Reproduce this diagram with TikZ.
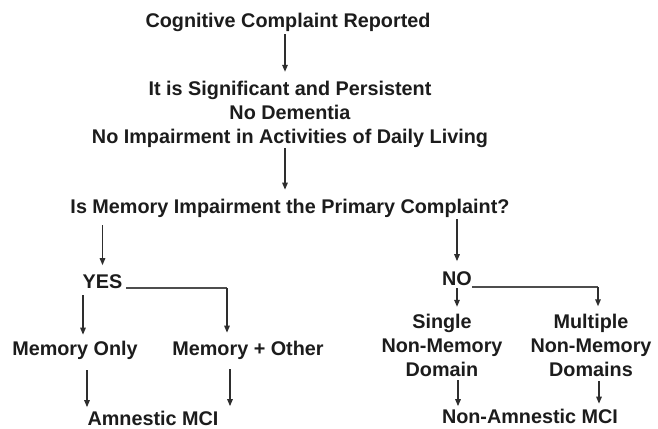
\documentclass[tikz,border=0pt]{standalone}
\usepackage{fontspec}
\setmainfont{Liberation Sans}
\usetikzlibrary{arrows.meta,calc}
\definecolor{ink}{HTML}{1C1C1C}
\definecolor{wire}{HTML}{2E2E2E}
\begin{document}
\begin{tikzpicture}[x=1pt,y=-1pt,
  lbl/.style={inner sep=0pt,outer sep=0pt,text=ink,font=\fontsize{19.8}{24}\selectfont\bfseries,anchor=base},
  blk/.style={lbl,align=center,anchor=north},
  arr/.style={draw=wire,line width=1.4pt,-{Triangle[length=7pt,width=5.5pt]}},
  hline/.style={draw=wire!85,line width=1.2pt}]
\useasboundingbox[fill=white] (0,0) rectangle (658,428);
% nodes
\node[lbl] (c1) at (288,28) {Cognitive Complaint Reported};
\node[blk] (c2) at (290,80.8) {It is Significant and Persistent\\No Dementia\\No Impairment in Activities of Daily Living};
\node[lbl] (q) at (290,213) {Is Memory Impairment the Primary Complaint?};
\node[lbl] (yes) at (102.5,288) {YES};
\node[lbl] (no) at (457,285) {NO};
\node[lbl] (memonly) at (75,355) {Memory Only};
\node[lbl] (memother) at (248,355) {Memory + Other};
\node[lbl] (amn) at (153,425) {Amnestic MCI};
\node[blk] (single) at (442,313.8) {Single\\Non-Memory\\Domain};
\node[blk] (multiple) at (591,313.8) {Multiple\\Non-Memory\\Domains};
\node[lbl] (nonamn) at (530,423.5) {Non-Amnestic MCI};
% connectors
\draw[arr,shorten <=2pt,shorten >=9pt] ([xshift=-3pt]c1.south) -- ([xshift=-3pt]c1.south |- c2.north);
\draw[arr,shorten <=1pt,shorten >=9pt] ([xshift=-5pt]c2.south) -- ([xshift=-5pt]c2.south |- q.north);
\draw[arr,shorten <=8pt,shorten >=9pt] (yes.north |- q.south) -- (yes.north);
\draw[arr,shorten <=2pt,shorten >=10pt] (no.north |- q.south) -- (no.north);
\draw[hline] ([xshift=4pt]yes.base east) -- ([xshift=-21pt]memother.north |- yes.base);
\draw[arr,shorten >=8pt] ([xshift=-21pt]memother.north |- yes.base) -- ([xshift=-21pt]memother.north);
\draw[arr,shorten <=7pt,shorten >=6pt] ([xshift=-19.5pt]yes.south) -- ([xshift=-19.5pt]yes.south |- memonly.north);
\draw[arr,shorten <=11pt,shorten >=3.5pt] ([xshift=12pt]memonly.south) -- ([xshift=12pt]memonly.south |- amn.north);
\draw[arr,shorten <=10pt,shorten >=4.5pt] ([xshift=-18pt]memother.south) -- ([xshift=-18pt]memother.south |- amn.north);
\draw[hline] ([yshift=-2pt]no.base east) -- ([xshift=7pt,yshift=-2pt]multiple.north |- no.base);
\draw[arr,shorten >=7.5pt] ([xshift=7pt,yshift=-2pt]multiple.north |- no.base) -- ([xshift=7pt]multiple.north);
\draw[arr,shorten <=3pt,shorten >=7pt] (no.south) -- (no.south |- single.north);
\draw[arr,shorten <=4pt,shorten >=3pt] ([xshift=16pt]single.south) -- ([xshift=16pt]single.south |- nonamn.north);
\draw[arr,shorten <=5pt,shorten >=5.5pt] ([xshift=8pt]multiple.south) -- ([xshift=8pt]multiple.south |- nonamn.north);
\end{tikzpicture}
\end{document}
